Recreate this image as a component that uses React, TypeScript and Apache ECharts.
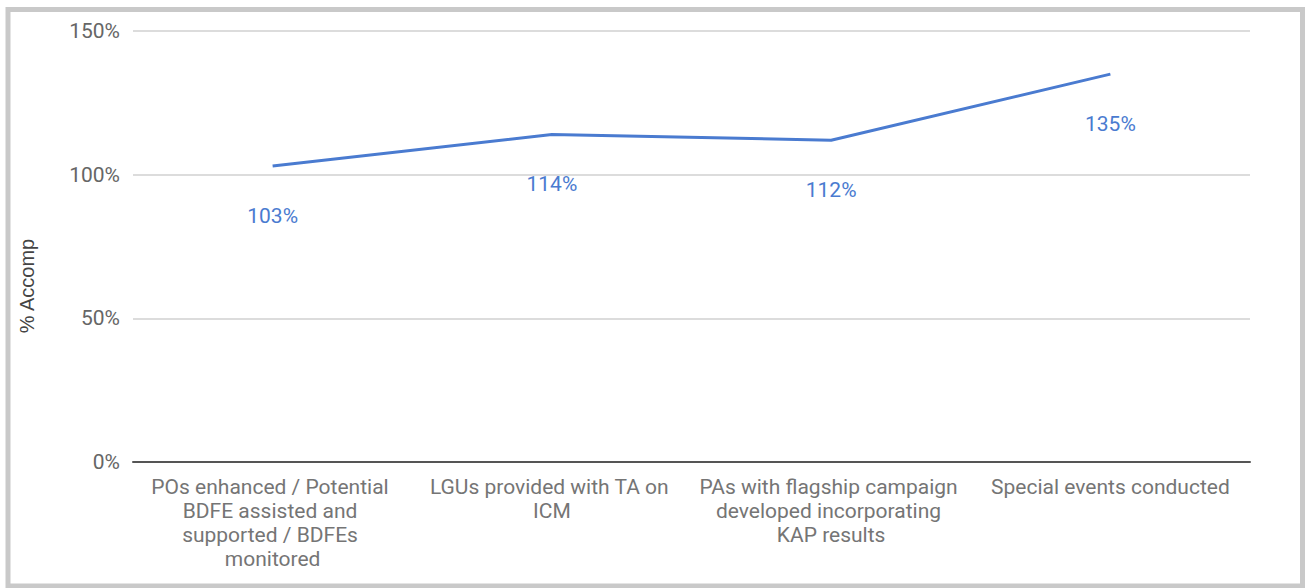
import React, { useEffect, useRef } from "react";
import * as echarts from "echarts";

const categories = [
  "POs enhanced / Potential BDFE assisted and supported / BDFEs monitored",
  "LGUs provided with TA on ICM",
  "PAs with flagship campaign developed incorporating KAP results",
  "Special events conducted",
];
const accomp = [103, 114, 112, 135];
const yTicks = { min: 0, max: 150, interval: 50 };
const axisTitle = "% Accomp";

export default function App() {
  const ref = useRef<HTMLDivElement>(null);
  useEffect(() => {
    const chart = echarts.init(ref.current!, null, { renderer: "svg" });
    chart.setOption({
      animation: false,
      backgroundColor: "#ffffff",
      grid: { left: 133, right: 56, top: 31, bottom: 126 },
      xAxis: {
        type: "category",
        data: categories,
        axisLine: { lineStyle: { color: "#555555", width: 2 } },
        axisTick: { show: false },
        axisLabel: {
          interval: 0,
          width: 266,
          overflow: "break",
          fontFamily: "Roboto",
          fontSize: 21,
          lineHeight: 24,
          color: "#757575",
          margin: 13,
        },
      },
      yAxis: {
        type: "value",
        min: yTicks.min,
        max: yTicks.max,
        interval: yTicks.interval,
        axisLine: { show: false },
        axisTick: { show: false },
        splitLine: { lineStyle: { color: "#d0d0d0", width: 1.5 } },
        axisLabel: {
          formatter: "{value}%",
          fontFamily: "Roboto",
          fontSize: 21,
          color: "#666666",
          margin: 13,
        },
      },
      graphic: [
        {
          type: "rect",
          shape: { x: 8, y: 9.5, width: 1294.5, height: 576.5 },
          style: { fill: "none", stroke: "#c9c9c9", lineWidth: 5 },
        },
        {
          type: "text",
          x: 27,
          y: 286,
          rotation: Math.PI / 2,
          style: {
            text: axisTitle,
            fontFamily: "Liberation Sans",
            fontSize: 20,
            fill: "#444444",
            align: "center",
            verticalAlign: "middle",
          },
        },
      ],
      series: [
        {
          type: "line",
          data: accomp,
          showSymbol: true,
          symbol: "circle",
          symbolSize: 0,
          lineStyle: { color: "#4a7bd0", width: 3 },
          itemStyle: { color: "#4a7bd0" },
          label: {
            show: true,
            position: "bottom",
            distance: 39,
            formatter: "{c}%",
            fontFamily: "Roboto",
            fontSize: 21,
            color: "#4a7bd0",
          },
        },
      ],
    });
    return () => chart.dispose();
  }, []);
  return (
    <div
      ref={ref}
      style={{ position: "absolute", left: 0, top: 0, width: 1306, height: 588 }}
    />
  );
}
